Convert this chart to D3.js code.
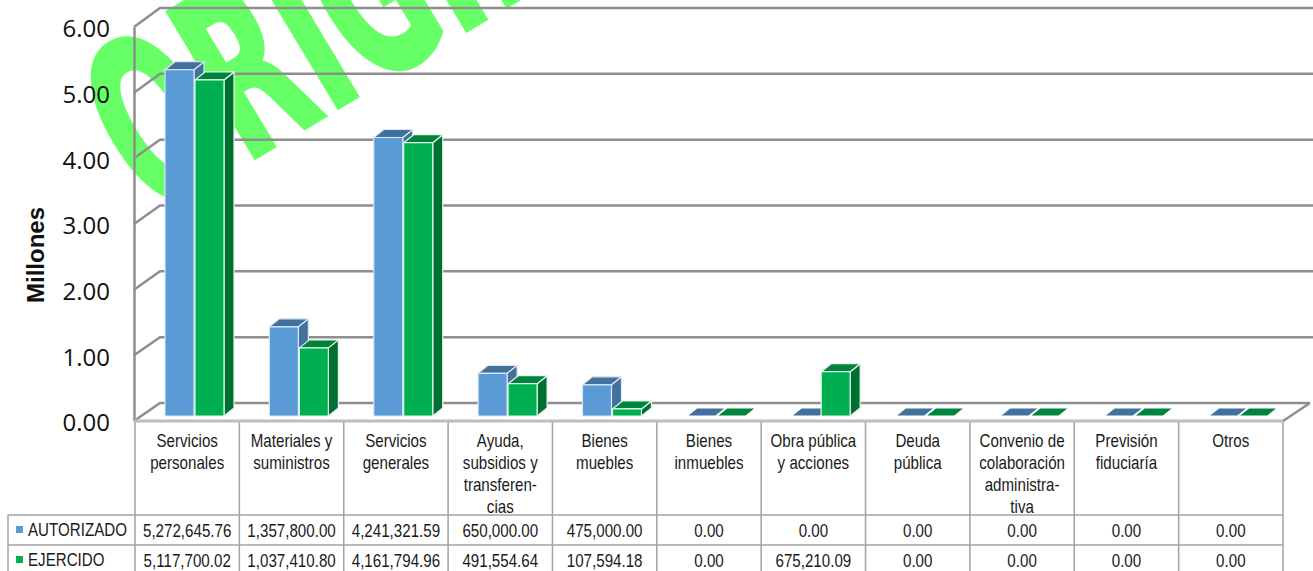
<!DOCTYPE html>
<html lang="es">
<head>
    <meta charset="UTF-8">
    <title>Autorizado vs ejercido</title>
    <script src="https://cdn.jsdelivr.net/npm/d3@7"></script>
    <style>
        html, body { margin: 0; padding: 0; background: #fff; overflow: hidden; }
        svg { display: block; }
        .axis text { font-family: "Open Sans", sans-serif; font-size: 24px; fill: #111; }
        .axis path { stroke: #8e8e8e; stroke-width: 2.5px; fill: none; }
        .cell text { font-family: "Liberation Sans", sans-serif; font-size: 17.5px; fill: #1a1a1a; }
    </style>
</head>
<body>
<script>
    const categories = ['Servicios\npersonales', 'Materiales y\nsuministros', 'Servicios\ngenerales',
        'Ayuda,\nsubsidios y\ntransferen-\ncias', 'Bienes\nmuebles', 'Bienes\ninmuebles',
        'Obra pública\ny acciones', 'Deuda\npública', 'Convenio de\ncolaboración\nadministra-\ntiva',
        'Previsión\nfiduciaría', 'Otros'];
    const seriesNames = ['AUTORIZADO', 'EJERCIDO'];
    const autorizado = [5272645.76, 1357800.00, 4241321.59, 650000.00, 475000.00, 0, 0, 0, 0, 0, 0];
    const ejercido = [5117700.02, 1037410.80, 4161794.96, 491554.64, 107594.18, 0, 675210.09, 0, 0, 0, 0];
    const yTicks = [0, 1, 2, 3, 4, 5, 6];

    const w = 1313, h = 571;
    const depth = 10, depthY = 8;
    const textScale = 0.865;
    const colors = [
        {front: '#5b9bd5', top: '#41719c', side: '#41719c', edge: '#dbe8f5'},
        {front: '#00b050', top: '#00843b', side: '#006f32', edge: '#e3f6eb'}
    ];

    const svg = d3.select('body').append('svg').attr('width', w).attr('height', h);

    // marca de agua, va detras de todo
    svg.append('text')
        .text('ORIGINAL')
        .attr('transform', 'translate(153,219) rotate(-31) scale(0.54,1)')
        .attr('font-family', '"DejaVu Sans", sans-serif')
        .attr('font-weight', 700)
        .attr('font-size', 233)
        .attr('fill', '#66ff66')
        .attr('stroke', '#66ff66')
        .attr('stroke-width', 4);

    const x = d3.scaleBand().domain(d3.range(categories.length)).range([135, 1283]);
    const xInner = d3.scaleBand().domain([0, 1]).range([30, 90]);
    const yFront = d3.scaleLinear().domain([0, 6]).range([421, 27]);
    const yBack = d3.scaleLinear().domain([0, 6]).range([403, 8]);
    const yBar = d3.scaleLinear().domain([0, 6]).range([416, 22]);

    // rejilla: pared del fondo y piso
    const grid = svg.append('g').attr('fill', 'none').attr('stroke', '#8e8e8e').attr('stroke-width', 2.5);
    grid.selectAll('path.wall')
        .data(yTicks)
        .enter()
        .append('path')
        .attr('class', 'wall')
        .attr('d', d => `M134,${yFront(d)}L160,${yBack(d)}L${d === 0 ? 1310 : 1313},${yBack(d)}`);
    grid.append('path').attr('d', `M1283,${yFront(0)}L1310,${yBack(0)}`);

    // eje y
    const yAxis = svg.append('g')
        .attr('class', 'axis')
        .attr('transform', 'translate(134,0)')
        .call(d3.axisLeft(yFront).tickValues(yTicks).tickFormat(d3.format('.2f')).tickSize(0).tickPadding(24));
    yAxis.selectAll('text').attr('y', 2);

    svg.append('text')
        .text('Millones')
        .attr('transform', 'translate(44,255) rotate(-90)')
        .attr('text-anchor', 'middle')
        .attr('font-family', '"Liberation Sans", sans-serif')
        .attr('font-weight', 700)
        .attr('font-size', 24)
        .attr('fill', '#111');

    // barras 3d
    const barData = categories.flatMap((c, i) => [autorizado[i], ejercido[i]].map((v, s) => ({i, s, v})));
    const bars = svg.selectAll('g.bar')
        .data(barData)
        .enter()
        .append('g')
        .attr('class', 'bar')
        .attr('stroke-width', 1.2)
        .attr('stroke-linejoin', 'round');

    const x0 = d => x(d.i) + xInner(d.s);
    const x1 = d => x0(d) + xInner.bandwidth() - 1;
    const yTop = d => yBar(d.v / 1e6);

    bars.filter(d => d.v > 0).append('path')
        .attr('fill', d => colors[d.s].side)
        .attr('stroke', d => colors[d.s].edge)
        .attr('d', d => `M${x1(d)},${yBar(0)}L${x1(d) + depth},${yBar(0) - depthY}L${x1(d) + depth},${yTop(d) - depthY}L${x1(d)},${yTop(d)}Z`);
    bars.append('path')
        .attr('fill', d => colors[d.s].top)
        .attr('stroke', d => d.v > 0 ? colors[d.s].edge : '#fff')
        .attr('d', d => `M${x0(d)},${yTop(d)}L${x0(d) + depth},${yTop(d) - depthY}L${x1(d) + depth},${yTop(d) - depthY}L${x1(d)},${yTop(d)}Z`);
    bars.filter(d => d.v > 0).append('rect')
        .attr('fill', d => colors[d.s].front)
        .attr('stroke', d => colors[d.s].edge)
        .attr('x', x0)
        .attr('y', yTop)
        .attr('width', d => x1(d) - x0(d))
        .attr('height', d => yBar(0) - yTop(d));

    // tabla de datos
    const rowTop = 515, rowH = 30, lineH = 22;
    const table = svg.append('g').attr('stroke', '#a3a3a3').attr('stroke-width', 1.5);
    table.selectAll('line.v')
        .data(d3.range(categories.length + 1))
        .enter()
        .append('line')
        .attr('class', 'v')
        .attr('x1', d => 135 + d * x.bandwidth())
        .attr('x2', d => 135 + d * x.bandwidth())
        .attr('y1', 421)
        .attr('y2', h);
    table.selectAll('line.h')
        .data([0, 1, 2])
        .enter()
        .append('line')
        .attr('class', 'h')
        .attr('x1', 8)
        .attr('x2', 1283)
        .attr('y1', d => rowTop + d * rowH)
        .attr('y2', d => rowTop + d * rowH);
    table.append('line').attr('x1', 8).attr('x2', 8).attr('y1', rowTop).attr('y2', h);
    table.append('line').attr('x1', 134).attr('x2', 1283).attr('y1', 421).attr('y2', 421)
        .attr('stroke', '#bdbdbd').attr('stroke-width', 3);

    const cell = svg.append('g').attr('class', 'cell');
    const cx = i => x(i) + x.bandwidth() / 2;

    categories.forEach((c, i) => {
        c.split('\n').forEach((line, k) => {
            cell.append('text')
                .text(line)
                .attr('text-anchor', 'middle')
                .attr('transform', `translate(${cx(i)},${446.5 + k * lineH}) scale(${textScale},1)`);
        });
    });

    [autorizado, ejercido].forEach((vals, s) => {
        cell.selectAll('text.v' + s)
            .data(vals)
            .enter()
            .append('text')
            .attr('class', 'v' + s)
            .text(d3.format(',.2f'))
            .attr('text-anchor', 'middle')
            .attr('transform', (d, i) => `translate(${cx(i)},${rowTop + 22 + s * rowH}) scale(${textScale},1)`);
        cell.append('text')
            .text(seriesNames[s])
            .attr('transform', `translate(28,${rowTop + 21 + s * rowH}) scale(${textScale},1)`);
        svg.append('rect')
            .attr('x', 16)
            .attr('y', rowTop + 11 + s * rowH)
            .attr('width', 7)
            .attr('height', 7)
            .attr('fill', colors[s].front);
    });
</script>
</body>
</html>
